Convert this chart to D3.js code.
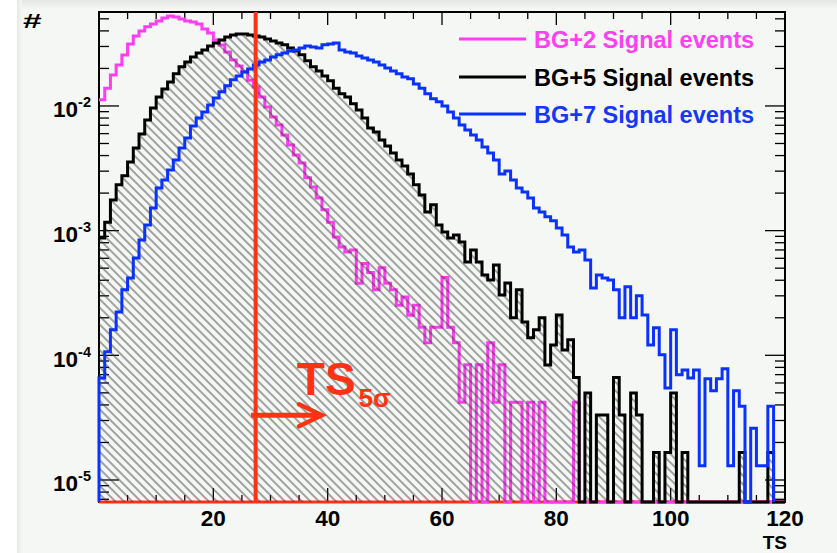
<!DOCTYPE html>
<html>
<head>
<meta charset="utf-8">
<script src="https://cdn.jsdelivr.net/npm/d3@7"></script>
<style>
  body { margin: 0; background: #f4f7f4; }
  svg { display: block; font-family: "Liberation Sans", Arial, Helvetica, sans-serif; font-weight: bold; }
</style>
</head>
<body>
<svg id="chart" width="837" height="553"></svg>
<script>
// ---- data: normalised TS distributions, one value per unit-wide TS bin (0..120) ----
const tsEdges = d3.range(0, 121);            // bin edges of the TS histograms
const tsDomain = [0, 120];
const yDomain = [6.66e-6, 0.0567];
const xTickLabels = [20, 40, 60, 80, 100, 120];
const yTickExponents = [-2, -3, -4, -5];
const ts5sigma = 27.4;

const seriesNames = ["BG+2 Signal events", "BG+5 Signal events", "BG+7 Signal events"];

const bg2Signal = [
  1.12e-2, 1.39e-2, 1.77e-2, 2.13e-2, 2.56e-2, 3.14e-2, 3.64e-2, 3.99e-2, 4.31e-2, 4.55e-2,
  4.81e-2, 5.08e-2, 5.27e-2, 5.18e-2, 4.99e-2, 4.81e-2, 4.72e-2, 4.55e-2, 4.14e-2, 3.85e-2,
  3.38e-2, 3.08e-2, 2.71e-2, 2.34e-2, 2.09e-2, 1.88e-2, 1.61e-2, 1.42e-2, 1.18e-2, 9.82e-3,
  8.17e-3, 7.05e-3, 5.85e-3, 4.87e-3, 4.05e-3, 3.49e-3, 2.65e-3, 2.24e-3, 1.83e-3, 1.47e-3,
  1.17e-3, 8.9e-4, 7.4e-4, 6.75e-4, 7.0e-4, 3.78e-4, 5.46e-4, 4.62e-4, 3.36e-4, 5.04e-4,
  3.78e-4, 3.36e-4, 2.52e-4, 2.94e-4, 2.1e-4, 2.52e-4, 1.68e-4, 1.26e-4, 1.68e-4, 1.68e-4,
  4.2e-4, 1.68e-4, 1.26e-4, 4.2e-5, 8.4e-5, 0, 8.4e-5, 0, 1.26e-4, 4.2e-5,
  8.4e-5, 0, 4.2e-5, 4.2e-5, 0, 4.2e-5, 0, 4.2e-5, 0, 0,
  0, 0, 0, 4.2e-5, 0, 0, 0, 0, 0, 0,
  0, 0, 0, 0, 0, 0, 0, 0, 0, 0,
  0, 0, 0, 0, 0, 0, 0, 0, 0, 0,
  0, 0, 0, 0, 0, 0, 0, 0, 0, 0
];

const bg5Signal = [
  8.74e-4, 1.17e-3, 1.76e-3, 2.33e-3, 2.75e-3, 3.56e-3, 4.60e-3, 5.96e-3, 7.72e-3, 9.64e-3,
  1.18e-2, 1.37e-2, 1.56e-2, 1.81e-2, 2.06e-2, 2.25e-2, 2.47e-2, 2.66e-2, 2.81e-2, 3.03e-2,
  3.20e-2, 3.38e-2, 3.57e-2, 3.71e-2, 3.78e-2, 3.78e-2, 3.71e-2, 3.64e-2, 3.57e-2, 3.45e-2,
  3.32e-2, 3.20e-2, 3.09e-2, 2.92e-2, 2.76e-2, 2.57e-2, 2.30e-2, 2.06e-2, 1.91e-2, 1.74e-2,
  1.59e-2, 1.39e-2, 1.25e-2, 1.18e-2, 1.04e-2, 9.29e-3, 8.01e-3, 6.66e-3, 6.19e-3, 5.34e-3,
  4.78e-3, 4.20e-3, 3.69e-3, 3.30e-3, 2.85e-3, 2.33e-3, 1.93e-3, 1.41e-3, 1.61e-3, 1.11e-3,
  9.76e-4, 8.74e-4, 9.24e-4, 8.11e-4, 5.61e-4, 7.0e-4, 5.61e-4, 4.41e-4, 4.02e-4, 5.31e-4,
  3.05e-4, 3.81e-4, 2.0e-4, 3.35e-4, 1.85e-4, 1.38e-4, 1.60e-4, 2.0e-4, 8.38e-5, 1.21e-4,
  2.11e-4, 1.105e-4, 1.33e-4, 6.64e-5, 0, 4.98e-5, 0, 3.32e-5, 3.32e-5, 0,
  6.64e-5, 3.32e-5, 0, 4.98e-5, 3.32e-5, 0, 0, 1.66e-5, 0, 1.66e-5,
  4.98e-5, 0, 1.66e-5, 0, 0, 0, 0, 0, 0, 0,
  0, 0, 1.66e-5, 0, 0, 0, 0, 1.66e-5, 0, 0
];

const bg7Signal = [
  6.59e-5, 1.07e-4, 1.60e-4, 2.23e-4, 3.35e-4, 4.17e-4, 6.04e-4, 8.42e-4, 1.11e-3, 1.52e-3,
  2.20e-3, 2.55e-3, 3.07e-3, 3.69e-3, 4.60e-3, 5.54e-3, 6.91e-3, 8.01e-3, 8.95e-3, 1.02e-2,
  1.16e-2, 1.30e-2, 1.45e-2, 1.62e-2, 1.74e-2, 1.87e-2, 1.98e-2, 2.13e-2, 2.25e-2, 2.34e-2,
  2.47e-2, 2.57e-2, 2.66e-2, 2.76e-2, 2.81e-2, 2.92e-2, 3.03e-2, 2.97e-2, 2.92e-2, 3.09e-2,
  3.14e-2, 3.20e-2, 2.81e-2, 2.71e-2, 2.66e-2, 2.52e-2, 2.43e-2, 2.34e-2, 2.25e-2, 2.13e-2,
  2.02e-2, 1.91e-2, 1.81e-2, 1.71e-2, 1.65e-2, 1.50e-2, 1.39e-2, 1.25e-2, 1.14e-2, 1.08e-2,
  1.00e-2, 8.95e-3, 8.01e-3, 7.04e-3, 6.42e-3, 5.85e-3, 5.34e-3, 4.69e-3, 4.20e-3, 3.69e-3,
  2.85e-3, 3.01e-3, 2.55e-3, 2.20e-3, 2.04e-3, 1.83e-3, 1.52e-3, 1.41e-3, 1.29e-3, 1.20e-3,
  1.05e-3, 9.24e-4, 7.40e-4, 6.75e-4, 7.00e-4, 5.82e-4, 3.47e-4, 4.41e-4, 4.17e-4, 4.02e-4,
  3.35e-4, 2.00e-4, 3.54e-4, 2.00e-4, 3.00e-4, 2.11e-4, 1.21e-4, 1.66e-4, 1.01e-4, 5.48e-5,
  1.60e-4, 6.97e-5, 7.64e-5, 6.59e-5, 7.64e-5, 1.3e-5, 6.5e-5, 5.2e-5, 6.5e-5, 7.8e-5,
  1.3e-5, 5.2e-5, 3.9e-5, 0, 2.6e-5, 1.3e-5, 1.3e-5, 3.9e-5, 0, 0
];

// ---- layout ----
const W = 837, H = 553;
const frame = { left: 99, right: 785, top: 12, bottom: 502 };
const colors = { magenta: "#ff3cf0", black: "#000000", blue: "#0a32ff", red: "#ff3314", bg: "#f4f7f4" };

const svg = d3.select("#chart");
const x = d3.scaleLinear().domain(tsDomain).range([frame.left, frame.right]);
const y = d3.scaleLog().domain(yDomain).range([frame.bottom, frame.top]);
const yFloor = frame.bottom;
const yOf = v => (v > 0 ? y(Math.max(v, yDomain[0])) : yFloor);

const defs = svg.append("defs");
// slide shadow along the top and left edges
const topGrad = defs.append("linearGradient").attr("id", "topShade").attr("x1", 0).attr("y1", 0).attr("x2", 0).attr("y2", 1);
topGrad.append("stop").attr("offset", "0%").attr("stop-color", "#e3e6e3");
topGrad.append("stop").attr("offset", "100%").attr("stop-color", colors.bg);
const leftGrad = defs.append("linearGradient").attr("id", "leftShade").attr("x1", 0).attr("y1", 0).attr("x2", 1).attr("y2", 0);
leftGrad.append("stop").attr("offset", "0%").attr("stop-color", "#e6e9e6");
leftGrad.append("stop").attr("offset", "100%").attr("stop-color", colors.bg);

// diagonal hatching for the filled histogram
const hatch = defs.append("pattern")
  .attr("id", "hatch").attr("patternUnits", "userSpaceOnUse")
  .attr("width", 6).attr("height", 6)
  .attr("patternTransform", "rotate(-45)");
hatch.append("line").attr("x1", 3).attr("y1", -1).attr("x2", 3).attr("y2", 7)
  .attr("stroke", "#3a3a3a").attr("stroke-width", 0.9);

// background
svg.append("rect").attr("width", W).attr("height", H).attr("fill", colors.bg);
svg.append("rect").attr("x", 17).attr("y", 0).attr("width", W - 17).attr("height", 9).attr("fill", "url(#topShade)");
svg.append("rect").attr("x", 0).attr("y", 0).attr("width", 17).attr("height", H).attr("fill", "#ffffff");
svg.append("rect").attr("x", 17).attr("y", 0).attr("width", 5).attr("height", H).attr("fill", "url(#leftShade)");

// ---- frame & ticks ----
const axisG = svg.append("g").attr("stroke", "#000").attr("fill", "none");
axisG.append("rect")
  .attr("x", frame.left).attr("y", frame.top)
  .attr("width", frame.right - frame.left).attr("height", frame.bottom - frame.top)
  .attr("stroke-width", 2);

const xTicks = d3.range(tsDomain[0], tsDomain[1] + 0.001, 5);
xTicks.forEach(t => {
  const major = t % 20 === 0;
  const px = x(t);
  axisG.append("line").attr("x1", px).attr("x2", px)
    .attr("y1", frame.bottom).attr("y2", frame.bottom - (major ? 14 : 7)).attr("stroke-width", 1.3);
  axisG.append("line").attr("x1", px).attr("x2", px)
    .attr("y1", frame.top).attr("y2", frame.top + (major ? 13 : 7)).attr("stroke-width", 1.3);
});

y.ticks().forEach(t => {
  const e = Math.log10(t);
  const major = Math.abs(e - Math.round(e)) < 1e-9;
  const py = y(t);
  if (py < frame.top || py > frame.bottom) return;
  axisG.append("line").attr("x1", frame.left).attr("x2", frame.left + (major ? 20 : 10))
    .attr("y1", py).attr("y2", py).attr("stroke-width", 1.3);
  axisG.append("line").attr("x1", frame.right).attr("x2", frame.right - (major ? 20 : 10))
    .attr("y1", py).attr("y2", py).attr("stroke-width", 1.3);
});

// ---- tick labels ----
const labelG = svg.append("g").attr("fill", "#000");
xTickLabels.forEach(t => {
  labelG.append("text").attr("x", x(t)).attr("y", 526)
    .attr("text-anchor", "middle").attr("font-size", 22.5).text(t);
});
yTickExponents.forEach(e => {
  const t = labelG.append("text").attr("x", 91).attr("y", y(Math.pow(10, e)) + 11.5)
    .attr("text-anchor", "end").attr("font-size", 22.5);
  t.append("tspan").text("10");
  t.append("tspan").attr("font-size", 14.5).attr("dy", -10).text(String(e));
});
labelG.append("text").attr("x", 787).attr("y", 549).attr("text-anchor", "end")
  .attr("font-size", 19).text("TS");
labelG.append("text").attr("transform", "translate(23,28) scale(1.6,1)")
  .attr("font-size", 21).text("#");

// red floor line along the lower axis
svg.append("line").attr("x1", x(tsDomain[0])).attr("x2", x(tsDomain[1]))
  .attr("y1", yFloor).attr("y2", yFloor).attr("stroke", colors.red).attr("stroke-width", 3);

// ---- histograms ----
function stepPoints(vals, fromFloor, trimTail) {
  let last = vals.length - 1;
  if (trimTail) while (last > 0 && !(vals[last] > 0)) last--;
  const pts = [];
  if (fromFloor) pts.push([tsEdges[0], 0]);
  for (let i = 0; i <= last; i++) pts.push([tsEdges[i], vals[i]]);
  pts.push([tsEdges[last + 1], vals[last]]);
  if (trimTail || fromFloor) pts.push([tsEdges[last + 1], 0]);
  return pts;
}
const stepLine = d3.line().x(d => x(d[0])).y(d => yOf(d[1])).curve(d3.curveStepAfter);
const stepArea = d3.area().x(d => x(d[0])).y0(yFloor).y1(d => yOf(d[1])).curve(d3.curveStepAfter);

const histStyle = { fill: "none", "stroke-width": 3, "stroke-linejoin": "miter", "stroke-linecap": "butt" };
function drawHist(vals, color, fromFloor, trimTail) {
  const p = svg.append("path").attr("d", stepLine(stepPoints(vals, fromFloor, trimTail))).attr("stroke", color);
  Object.entries(histStyle).forEach(([k, v]) => p.attr(k, v));
  return p;
}

drawHist(bg2Signal, colors.magenta, false, false);
svg.append("path").attr("d", stepArea(stepPoints(bg5Signal, false, false))).attr("fill", "url(#hatch)");
drawHist(bg5Signal, colors.black, false, false);
drawHist(bg7Signal, colors.blue, true, true);

// ---- 5 sigma threshold marker ----
svg.append("line").attr("x1", x(ts5sigma)).attr("x2", x(ts5sigma))
  .attr("y1", frame.bottom + 1).attr("y2", frame.top)
  .attr("stroke", colors.red).attr("stroke-width", 4);

const arrowFrom = 26.6, arrowTo = 39.0, arrowLevel = 3.3e-5;
const ax0 = x(arrowFrom), ax1 = x(arrowTo), ay = y(arrowLevel);
svg.append("line").attr("x1", ax0).attr("x2", ax1 - 2).attr("y1", ay).attr("y2", ay)
  .attr("stroke", colors.red).attr("stroke-width", 5);
svg.append("path").attr("d", `M${ax1 - 23},${ay - 11}L${ax1},${ay}L${ax1 - 23},${ay + 11}`)
  .attr("fill", "none").attr("stroke", colors.red).attr("stroke-width", 4.5)
  .attr("stroke-linejoin", "miter").attr("stroke-linecap", "round");

const tsLabel = svg.append("text").attr("x", x(34.6)).attr("y", 395)
  .attr("fill", colors.red).attr("font-size", 46);
tsLabel.append("tspan").text("TS");
tsLabel.append("tspan").attr("dx", 3).attr("dy", 12).attr("font-size", 26).text("5σ");

// ---- legend ----
const legendColors = [colors.magenta, colors.black, colors.blue];
const legendText = ["#ff40f0", "#000000", "#1438f5"];
const legendY = [39, 77, 114];
seriesNames.forEach((name, i) => {
  svg.append("line").attr("x1", 459).attr("x2", 526)
    .attr("y1", legendY[i]).attr("y2", legendY[i])
    .attr("stroke", legendColors[i]).attr("stroke-width", 3);
  svg.append("text").attr("x", 534).attr("y", legendY[i] + 8.5)
    .attr("fill", legendText[i]).attr("font-size", 23.5).text(name);
});
</script>
</body>
</html>
